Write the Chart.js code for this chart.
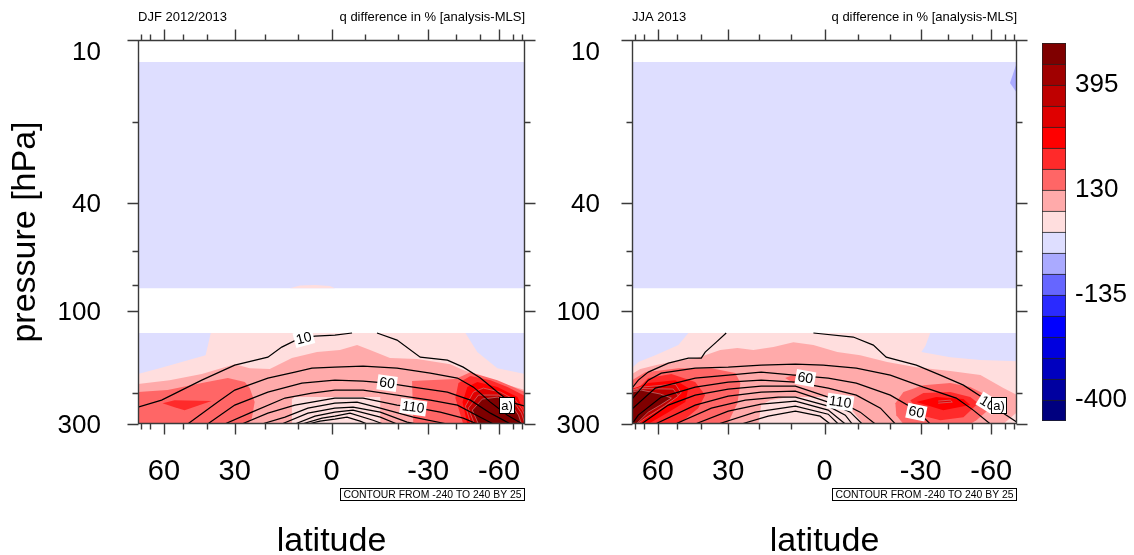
<!DOCTYPE html>
<html>
<head>
<meta charset="utf-8">
<script src="https://cdn.jsdelivr.net/npm/chart.js@4.4.1/dist/chart.umd.min.js"></script>
<style>
  html, body { margin: 0; padding: 0; background: #fff; }
  #wrap { position: relative; width: 1134px; height: 555px; overflow: hidden; }
  canvas { position: absolute; }
</style>
</head>
<body>
<div id="wrap">
  <canvas id="djf" width="1134" height="555" style="left:0;top:0"></canvas>
  <canvas id="jja" width="1134" height="555" style="left:0;top:0"></canvas>
  <canvas id="cbar" width="92" height="430" style="left:1042px;top:17px"></canvas>
</div>
<script>
// ---------------- axes ----------------
const LAT_MAJOR = [60, 30, 0, -30, -60];
const LAT_MINOR = [80, 70, 50, 40, 20, 10, -10, -20, -40, -50, -70, -80];
const P_RANGE = [10, 261];                 // hPa, top and bottom of the panels
const P_MAJOR = [10, 40, 100, 261];
const P_MAJOR_LABELS = ['10', '40', '100', '300'];
const P_MINOR = [20, 60, 80, 200];

// ---------------- colour levels (%) ----------------
const LEVELS = [-400, -347, -294, -241, -188, -135, -82, -29, 24, 77, 130, 183, 236, 289, 342, 395, 448];
const LEVEL_COLORS = ['#00007f', '#0000a0', '#0000bf', '#0000df', '#0000ff', '#2a2aff', '#6666ff', '#aaaaff',
                      '#dedeff', '#ffdede', '#ffaaaa', '#ff6666', '#ff2a2a', '#ff0000', '#df0000', '#bf0000',
                      '#a00000', '#7f0000'];
const CBAR_ENDS = [-453, 501];
const CBAR_LABELS = [395, 130, -135, -400];
const CONTOUR_RANGE = [-240, 240, 25];     // from, to, step of the line contours

// pressure layers that carry data (hPa)
const UPPER_LAYER = [12.05, 82.3];
const LOWER_LAYER = [120.5, 261];

// ---------------- DJF 2012/2013 : filled regions [lat, p] ----------------
const DJF_PINK_BUMP = [[12.4,82.3],[9.4,80.5],[4.9,80.2],[0.5,80.9],[-1.0,82.3]];
const DJF_PALE = [[38.6,120.5],[-43.8,120.5],[-48.9,141.7],[-59.0,162.4],[-90,170.8],[-90,261],[90,261],[90,170.8],[62.7,162.4],[40.6,145.4]];
const DJF_LIGHT = [[90,186.0],[56.8,179.8],[42.1,170.8],[30.0,157.0],[25.0,162.4],[18.6,163.7],[11.8,149.1],[4.3,141.7],[-2.5,139.3],[-7.6,133.5],[-11.5,139.3],[-17.6,149.1],[-26.3,150.4],[-37.9,157.0],[-42.9,165.1],[-59.0,182.8],[-90,195.7],[-90,261],[90,261]];
const DJF_CORE_PALE = [[11.8,261],[11.8,211.2],[10.9,207.7],[-14.6,207.7],[-14.6,261]];
const DJF_SALMON_N = [[90,199.0],[57.9,195.7],[42.1,184.4],[32.4,176.7],[26.6,182.8],[25.0,192.4],[23.4,216.7],[24.3,248.4],[25.6,261],[90,261]];
const DJF_RED_N = [[60.8,218.6],[54.2,213.1],[38.3,214.9],[49.4,232.0],[54.2,226.2]];
const DJF_SALMON_S = [[-25.0,261],[-24.6,181.3],[-39.8,178.2],[-45.9,168.0],[-59.0,179.8],[-90,199.0],[-90,261]];
const DJF_RED_S = [[-42.9,261],[-39.8,209.4],[-41.0,184.4],[-45.9,173.7],[-55.2,179.8],[-65.4,190.8],[-90,205.9],[-90,261]];
const DJF_BRIGHT_S = [[-44.6,261],[-42.6,216.7],[-44.6,190.8],[-48.9,182.8],[-59.0,190.8],[-74.0,207.7],[-80.8,228.1],[-90,236.0],[-90,261]];
const DJF_DARK_S = [[-46.1,261],[-43.8,224.3],[-47.2,199.0],[-51.7,192.4],[-60.8,199.0],[-72.0,213.1],[-80.8,232.0],[-90,244.2],[-90,261]];
const DJF_DEEP_S = [[-47.6,261],[-45.0,228.1],[-49.4,204.2],[-59.6,204.2],[-70.5,216.7],[-79.0,238.0],[-90,261]];
const DJF_CORE_S = [[-49.4,261],[-46.7,232.0],[-51.2,211.2],[-59.0,207.7],[-67.7,218.6],[-75.1,242.1],[-79.0,261]];

const DJF_REGIONS = [
  [-29, 'upper'], [24, DJF_PINK_BUMP], [-29, 'lower'],
  [24, DJF_PALE], [77, DJF_LIGHT], [24, DJF_CORE_PALE],
  [130, DJF_SALMON_N], [183, DJF_RED_N],
  [130, DJF_SALMON_S], [183, DJF_RED_S], [236, DJF_BRIGHT_S], [289, DJF_DARK_S], [342, DJF_DEEP_S], [448, DJF_CORE_S]
];

// DJF line contours [lat, p]
const DJF_C10A = [[90,226.2],[61.4,213.1],[42.1,179.8],[30.0,158.3],[19.2,147.9],[14.9,135.8],[10.0,126.9],[4.9,123.7],[-1.0,122.6],[-6.1,120.5]];
const DJF_C10B = [[-13.6,120.5],[-19.8,128.0],[-27.3,147.9],[-36.8,151.7],[-42.9,161.0],[-50.3,176.7],[-59.0,199.0],[-67.7,216.7],[-90,224.3]];
const DJF_C35 = [[48.0,261],[36.0,216.7],[30.0,195.7],[19.2,176.7],[10.9,168.0],[5.8,162.4],[-1.0,161.0],[-9.4,159.6],[-19.8,162.4],[-30.7,169.4],[-40.6,176.7],[-47.2,190.8],[-55.2,216.7],[-65.4,242.1],[-80.8,261]];
const DJF_C60 = [[39.8,261],[30.0,222.3],[19.2,199.0],[8.8,184.4],[-1.0,179.8],[-9.4,181.3],[-16.7,184.4],[-25.0,190.8],[-36.8,199.0],[-45.9,213.1],[-55.2,238.0],[-67.7,261]];
const DJF_C85 = [[33.5,261],[24.3,236.0],[13.9,209.4],[5.8,200.7],[-1.0,195.7],[-9.4,195.7],[-19.8,204.2],[-30.7,213.1],[-40.6,222.3],[-50.3,246.3],[-56.8,261]];
const DJF_C110 = [[27.6,261],[19.2,238.0],[10.9,222.3],[-1.0,209.4],[-9.4,209.4],[-19.8,222.3],[-25.0,226.2],[-34.2,236.0],[-42.9,248.4],[-48.9,261]];
const DJF_C135 = [[21.1,261],[13.9,246.3],[7.0,228.1],[-1.0,218.6],[-7.6,216.7],[-14.6,228.1],[-25.0,246.3],[-36.8,261]];
const DJF_C160 = [[14.9,261],[7.0,238.0],[-1.0,228.1],[-6.4,226.2],[-14.6,236.0],[-23.0,257.0],[-26.3,261]];
const DJF_C185 = [[10.9,261],[4.9,244.2],[-1.0,236.0],[-6.4,232.0],[-14.6,246.3],[-19.8,261]];
const DJF_C210 = [[8.8,261],[2.8,248.4],[-1.0,244.2],[-5.5,238.0],[-12.4,252.7],[-15.5,261]];
const DJF_C235 = [[7.0,261],[3.4,254.7],[-1.0,250.6],[-4.6,246.3],[-8.5,254.7],[-10.6,261]];
const DJF_LINES = [[10, DJF_C10A], [10, DJF_C10B], [35, DJF_C35], [60, DJF_C60], [85, DJF_C85], [110, DJF_C110],
                   [135, DJF_C135], [160, DJF_C160], [185, DJF_C185], [210, DJF_C210], [235, DJF_C235]];
// line labels: [contour value, lat, p, angle]
const DJF_LABELS = [[10, 8.2, 126.0, -15], [60, -16.7, 184.4, 8], [110, -25.0, 226.2, 8]];

// ---------------- JJA 2013 : filled regions [lat, p] ----------------
const JJA_SLIVER = [[-90,12.05],[-74.5,14.41],[-90,15.69]];
const JJA_PALE = [[45.0,120.5],[-33.3,120.5],[-31.6,134.6],[-30.2,141.7],[-40.8,147.9],[-54.1,151.7],[-90,153.0],[-90,261],[90,261],[90,162.4],[75.3,154.3],[61.5,145.4],[49.4,133.5]];
const JJA_LIGHT = [[90,170.8],[73.1,163.7],[61.5,158.3],[53.2,154.3],[41.4,149.1],[32.8,139.3],[26.9,136.9],[21.7,139.3],[15.4,135.8],[9.3,130.2],[3.3,133.5],[-3.8,141.7],[-10.7,145.4],[-19.0,154.3],[-28.5,161.0],[-40.8,166.5],[-54.1,172.3],[-68.3,192.4],[-90,204.2],[-90,236.0],[-68.3,261],[90,261]];
const JJA_CORE_PALE = [[20.1,261],[19.2,222.3],[16.4,213.1],[10.8,207.7],[-1.1,207.7],[-7.7,228.1],[-11.6,261]];
const JJA_SALMON_N = [[90,179.8],[68.6,168.0],[49.4,162.4],[36.0,162.4],[27.6,169.4],[25.9,184.4],[26.9,218.6],[30.3,261],[90,261]];
const JJA_SALMON_EQ = [[11.8,176.7],[7.2,168.0],[2.7,173.7],[3.6,184.4],[8.7,186.0]];
const JJA_RED_N = [[90,192.4],[75.3,192.4],[66.3,176.7],[52.7,170.8],[42.2,182.8],[38.3,204.2],[41.0,228.1],[48.1,257.0],[54.2,261],[90,261]];
const JJA_BRIGHT_N = [[90,194.0],[66.3,184.4],[50.8,179.8],[45.0,192.4],[46.3,216.7],[54.2,236.0],[66.3,261],[90,261]];
const JJA_DARK_N = [[90,195.7],[72.1,190.8],[50.8,186.0],[48.1,200.7],[54.2,218.6],[72.1,248.4],[83.3,261],[90,261]];
const JJA_DEEP_N = [[90,196.5],[72.1,193.2],[51.8,194.0],[49.4,205.9],[56.3,224.3],[68.6,248.4],[76.5,261],[90,261]];
const JJA_CORE_N = [[90,199.0],[72.1,195.7],[58.5,202.4],[52.7,209.4],[58.5,222.3],[66.3,236.0],[77.9,261],[90,261]];
const JJA_SALMON_S = [[-21.6,218.6],[-24.2,199.0],[-30.9,187.6],[-40.8,184.4],[-49.2,190.8],[-57.2,204.2],[-59.5,228.1],[-52.1,252.7],[-49.2,261],[-24.2,261],[-21.9,242.1]];
const JJA_RED_S = [[-26.5,213.1],[-30.9,200.7],[-40.8,199.0],[-49.2,207.7],[-53.0,218.6],[-46.2,246.3],[-37.0,252.7],[-29.9,242.1]];
const JJA_BRIGHT_S = [[-28.5,216.7],[-35.5,207.7],[-46.2,211.2],[-49.2,222.3],[-38.1,232.0]];
const JJA_DARK_S = [[-36.2,214.9],[-40.8,213.1],[-41.6,216.7],[-36.2,218.6]];

const JJA_REGIONS = [
  [-29, 'upper'], [-82, JJA_SLIVER], [-29, 'lower'],
  [24, JJA_PALE], [77, JJA_LIGHT], [24, JJA_CORE_PALE],
  [130, JJA_SALMON_N], [130, JJA_SALMON_EQ],
  [183, JJA_RED_N], [236, JJA_BRIGHT_N], [289, JJA_DARK_N], [342, JJA_DEEP_N], [448, JJA_CORE_N],
  [130, JJA_SALMON_S], [183, JJA_RED_S], [236, JJA_BRIGHT_S], [289, JJA_DARK_S]
];

// JJA line contours [lat, p]
const JJA_C10A = [[90,192.4],[75.3,179.8],[66.3,168.0],[54.2,155.6],[45.0,149.1],[39.8,149.1],[38.3,141.7],[34.2,130.2],[30.7,120.5]];
const JJA_C10B = [[3.3,120.5],[-8.6,124.7],[-14.7,133.5],[-18.7,147.9],[-28.5,158.3],[-37.0,172.3],[-46.2,187.6],[-55.6,209.4],[-68.3,238.0],[-90,257.0]];
const JJA_C35 = [[90,211.2],[66.3,179.8],[58.0,169.4],[42.2,162.4],[30.0,161.0],[19.2,158.3],[8.7,157.0],[0.4,158.3],[-9.5,162.4],[-20.0,172.3],[-30.9,190.8],[-43.2,209.4],[-50.6,232.0],[-59.5,261]];
const JJA_C60 = [[90,230.1],[61.5,192.4],[42.2,176.7],[30.0,172.3],[19.2,168.0],[5.7,173.7],[-1.1,176.7],[-9.5,184.4],[-20.0,204.2],[-28.5,232.0],[-33.3,261]];
const JJA_C85 = [[83.3,257.0],[75.3,242.1],[58.0,207.7],[42.2,190.8],[30.0,182.8],[19.2,179.8],[8.7,182.8],[-1.1,192.4],[-9.5,204.2],[-16.9,228.1],[-21.6,261]];
const JJA_C110 = [[72.1,261],[54.2,222.3],[42.2,204.2],[30.0,194.0],[19.2,189.2],[8.7,189.2],[-1.1,207.7],[-4.7,216.7],[-10.7,236.0],[-15.3,261]];
const JJA_C135 = [[61.5,261],[42.2,222.3],[30.0,205.9],[19.2,199.0],[8.7,197.3],[-1.1,216.7],[-7.7,236.0],[-11.3,261]];
const JJA_C160 = [[50.8,261],[36.0,228.1],[24.3,213.1],[13.9,207.7],[8.7,207.7],[-1.1,224.3],[-6.2,242.1],[-8.3,261]];
const JJA_C185 = [[42.2,261],[30.0,234.0],[19.2,220.5],[8.7,214.9],[-1.1,232.0],[-6.2,261]];
const JJA_C210 = [[33.5,261],[21.1,236.0],[8.7,224.3],[-1.1,240.1],[-4.1,261]];
const JJA_C235 = [[25.6,261],[17.0,244.2],[8.7,234.0],[1.3,244.2],[-1.7,261]];
const JJA_LINES = [[10, JJA_C10A], [10, JJA_C10B], [35, JJA_C35], [60, JJA_C60], [85, JJA_C85], [110, JJA_C110],
                   [135, JJA_C135], [160, JJA_C160], [185, JJA_C185], [210, JJA_C210], [235, JJA_C235]];
const JJA_LABELS = [[60, 5.7, 176.7, 10], [110, -4.7, 216.7, 8], [60, -28.5, 236.0, 12], [10, -58.0, 218.6, 32]];

const QUANTITY = 'q difference in % [analysis-MLS]';
const FONT = '"Liberation Sans", Arial, Helvetica, sans-serif';

// ---------------- latitude axis linear in sin(latitude) ----------------
class SineLatitudeScale extends Chart.LinearScale {
  static id = 'sinlat';
  static defaults = {};
  _sin(v) { return Math.sin(v * Math.PI / 180); }
  getPixelForValue(value) {
    const a = this._sin(this.min), b = this._sin(this.max);
    return this.getPixelForDecimal((this._sin(value) - a) / (b - a));
  }
  getValueForPixel(pixel) {
    const a = this._sin(this.min), b = this._sin(this.max);
    const s = a + this.getDecimalForPixel(pixel) * (b - a);
    return Math.asin(Math.max(-1, Math.min(1, s))) * 180 / Math.PI;
  }
}
Chart.register(SineLatitudeScale);

const binColor = level => LEVEL_COLORS[LEVELS.indexOf(level) + 1];
const toXY = pts => pts.map(([x, y]) => ({x, y}));
const layerRect = ([top, bottom]) => [[90, top], [-90, top], [-90, bottom], [90, bottom]];

function regionDatasets(regions) {
  const n = regions.length;
  return regions.map(([level, shape], i) => {
    const pts = shape === 'upper' ? layerRect(UPPER_LAYER) : shape === 'lower' ? layerRect(LOWER_LAYER) : shape;
    const ring = level >= 289;
    return {
      data: toXY(pts),
      backgroundColor: binColor(level),
      borderColor: ring ? 'rgba(205,135,135,0.9)' : 'rgba(0,0,0,0)',
      borderWidth: ring ? 0.7 : 0,
      fill: 'shape',
      pointRadius: 0,
      order: 100 + n - i
    };
  });
}
function lineDatasets(lines) {
  return lines.map(([, pts]) => ({
    data: toXY(pts),
    borderColor: '#000',
    borderWidth: 1.2,
    fill: false,
    pointRadius: 0,
    order: -1
  }));
}

// frame, ticks, tick labels, titles and annotations of one panel
const panelDecor = {
  id: 'panelDecor',
  afterDatasetsDraw(chart, args, o) {
    const {ctx, chartArea: a, scales: {x, y}} = chart;
    ctx.save();
    ctx.font = `14px ${FONT}`;
    ctx.textAlign = 'center';
    ctx.textBaseline = 'middle';
    for (const [lev, lat, p, ang] of o.labels) {
      const t = String(lev);
      const w = ctx.measureText(t).width + 4;
      ctx.save();
      ctx.translate(x.getPixelForValue(lat), y.getPixelForValue(p));
      ctx.rotate(ang * Math.PI / 180);
      ctx.fillStyle = '#fff';
      ctx.fillRect(-w / 2, -7.5, w, 15);
      ctx.fillStyle = '#000';
      ctx.fillText(t, 0, 0.5);
      ctx.restore();
    }
    // panel tag
    const bx = Math.round(a.right - 26.5), by = 397;
    ctx.fillStyle = '#fff';
    ctx.fillRect(bx, by, 16, 17);
    ctx.strokeStyle = '#000';
    ctx.lineWidth = 1;
    ctx.strokeRect(bx + 0.5, by + 0.5, 15, 16);
    ctx.fillStyle = '#000';
    ctx.font = `13px ${FONT}`;
    ctx.fillText('a)', bx + 8, by + 9);
    ctx.restore();
  },
  afterDraw(chart, args, o) {
    const {ctx, chartArea: a, scales: {x, y}} = chart;
    const L = Math.round(a.left) + 0.5, R = Math.round(a.right) - 0.5;
    const T = Math.round(a.top) + 0.5, B = Math.round(a.bottom) - 0.5;
    ctx.save();
    ctx.strokeStyle = '#3a3a3a';
    ctx.lineWidth = 1.4;
    ctx.beginPath();
    ctx.rect(L, T, R - L, B - T);
    const seg = (x1, y1, x2, y2) => { ctx.moveTo(x1, y1); ctx.lineTo(x2, y2); };
    const xt = (v, len) => { const px = Math.round(x.getPixelForValue(v)) + 0.5; seg(px, T, px, T - len); seg(px, B, px, B + len); };
    const yt = (v, len) => { const py = Math.round(y.getPixelForValue(v)) + 0.5; seg(L, py, L - len, py); seg(R, py, R + len, py); };
    LAT_MAJOR.forEach(v => xt(v, 11));
    LAT_MINOR.forEach(v => xt(v, 6));
    P_MAJOR.forEach(v => yt(v, 11));
    P_MINOR.forEach(v => yt(v, 6));
    ctx.stroke();

    ctx.fillStyle = '#000';
    ctx.textBaseline = 'alphabetic';
    // latitude tick labels
    ctx.font = `29px ${FONT}`;
    ctx.textAlign = 'center';
    LAT_MAJOR.forEach(v => ctx.fillText(String(v), x.getPixelForValue(v), a.bottom + 56));
    // pressure tick labels
    ctx.font = `26px ${FONT}`;
    ctx.textAlign = 'right';
    P_MAJOR.forEach((v, i) => {
      const py = y.getPixelForValue(v);
      ctx.fillText(P_MAJOR_LABELS[i], a.left - o.yGap, i === 0 ? py + 20 : py + 9);
    });
    // titles
    ctx.font = `13px ${FONT}`;
    ctx.textAlign = 'left';
    ctx.fillText(o.season, a.left, 21);
    ctx.textAlign = 'right';
    ctx.fillText(QUANTITY, a.right, 21);
    // axis titles
    ctx.font = `34px ${FONT}`;
    ctx.textAlign = 'center';
    ctx.fillText('latitude', (a.left + a.right) / 2, 551);
    if (o.yTitle) {
      ctx.save();
      ctx.translate(35, (a.top + a.bottom) / 2);
      ctx.rotate(-Math.PI / 2);
      ctx.fillText('pressure [hPa]', 0, 0);
      ctx.restore();
    }
    // contour information box
    const info = `CONTOUR FROM ${CONTOUR_RANGE[0]} TO ${CONTOUR_RANGE[1]} BY ${CONTOUR_RANGE[2]}`;
    ctx.font = `10.4px ${FONT}`;
    const tw = ctx.measureText(info).width;
    const ix = Math.round(a.right - tw - 7) + 0.5;
    ctx.fillStyle = '#fff';
    ctx.fillRect(ix, 488.5, R - ix, 12);
    ctx.strokeStyle = '#000';
    ctx.lineWidth = 1;
    ctx.strokeRect(ix, 488.5, R - ix, 12);
    ctx.fillStyle = '#000';
    ctx.textAlign = 'left';
    ctx.fillText(info, ix + 3, 498);
    ctx.restore();
  }
};

function makePanel(id, padding, season, regions, lines, labels, yTitle, yGap) {
  return new Chart(document.getElementById(id), {
    type: 'line',
    data: { datasets: [...regionDatasets(regions), ...lineDatasets(lines)] },
    options: {
      responsive: false,
      animation: false,
      events: [],
      devicePixelRatio: 1,
      layout: { padding },
      elements: { line: { tension: 0 }, point: { radius: 0 } },
      scales: {
        x: { type: 'sinlat', min: -90, max: 90, reverse: true, bounds: 'data', display: false },
        y: { type: 'logarithmic', min: P_RANGE[0], max: P_RANGE[1], reverse: true, bounds: 'data', display: false }
      },
      plugins: {
        legend: { display: false },
        tooltip: { enabled: false },
        panelDecor: { season, labels, yTitle, yGap }
      }
    },
    plugins: [panelDecor]
  });
}

makePanel('djf', {left: 138, top: 40, right: 1134 - 525, bottom: 555 - 424},
          'DJF 2012/2013', DJF_REGIONS, DJF_LINES, DJF_LABELS, true, 37);
makePanel('jja', {left: 632, top: 40, right: 1134 - 1017, bottom: 555 - 424},
          'JJA 2013', JJA_REGIONS, JJA_LINES, JJA_LABELS, false, 32);

// ---------------- colour bar ----------------
const cbarBounds = [CBAR_ENDS[0], ...LEVELS, CBAR_ENDS[1]];
new Chart(document.getElementById('cbar'), {
  type: 'bar',
  data: {
    labels: [''],
    datasets: LEVEL_COLORS.map((c, i) => ({
      data: [[cbarBounds[i], cbarBounds[i + 1]]],
      backgroundColor: c,
      borderColor: '#222',
      borderWidth: {top: 1, left: 1, right: 1, bottom: i === 0 ? 1 : 0},
      borderSkipped: false,
      grouped: false,
      barPercentage: 1,
      categoryPercentage: 1
    }))
  },
  options: {
    responsive: false,
    animation: false,
    events: [],
    devicePixelRatio: 1,
    layout: { padding: {top: 26, bottom: 26, left: 0, right: 0} },
    scales: {
      x: { display: false },
      y: {
        position: 'right',
        min: CBAR_ENDS[0],
        max: CBAR_ENDS[1],
        afterBuildTicks: axis => { axis.ticks = CBAR_LABELS.map(v => ({value: v})); },
        afterFit: axis => { axis.width = 68; },
        ticks: { color: '#000', padding: 9, font: { size: 26, family: FONT }, callback: v => String(v) },
        grid: { display: false, drawTicks: false },
        border: { display: false }
      }
    },
    plugins: { legend: { display: false }, tooltip: { enabled: false } }
  }
});
</script>
</body>
</html>
